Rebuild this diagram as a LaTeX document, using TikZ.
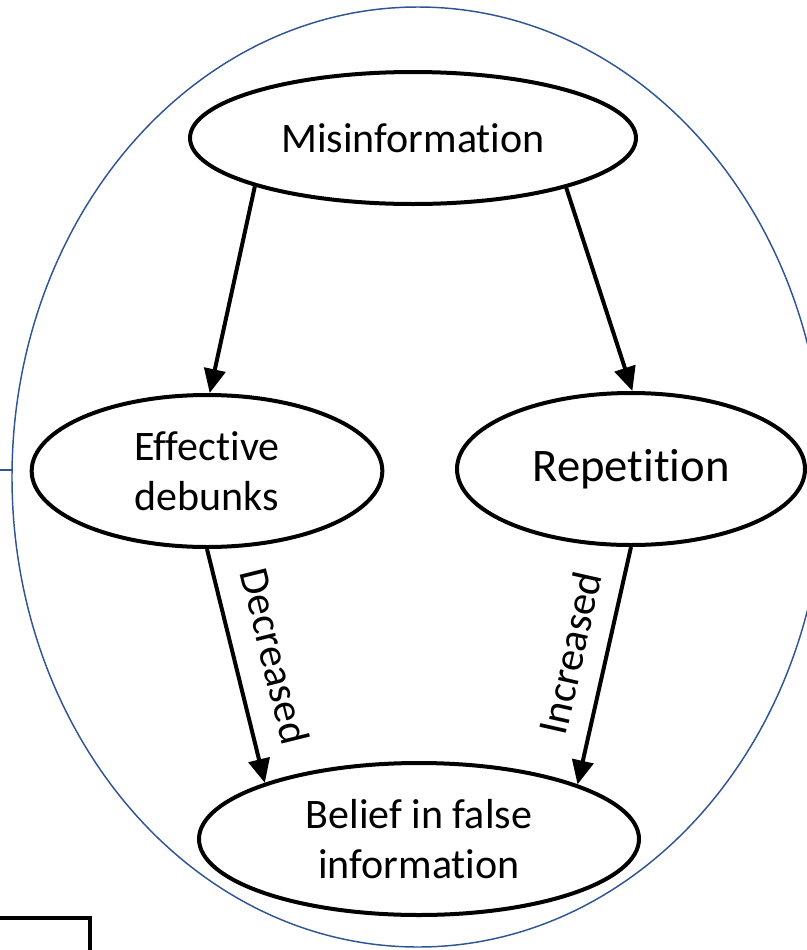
\documentclass[tikz,border=0pt]{standalone}
\usepackage{fontspec}
\setmainfont{Carlito}[Ligatures=CommonOff]
\usetikzlibrary{arrows.meta, shapes.geometric, positioning, calc}
\definecolor{rimblue}{RGB}{47,85,151}
\tikzset{
  bubble/.style={draw, ellipse, line width=3pt, inner sep=0pt, align=center,
    font=\fontsize{31.5}{37.5}\selectfont},
  link/.style={line width=3pt, -{Triangle[length=18pt,width=16pt]}},
  tag/.style={sloped, inner sep=0pt, font=\fontsize{31.5}{37.5}\selectfont}
}
\begin{document}
\begin{tikzpicture}[x=0.75pt,y=-0.75pt]
\useasboundingbox (0,0) rectangle (807,950);
% outer frame
\draw[rimblue, line width=1.1pt] (418,477) ellipse [x radius=304.5pt, y radius=352.5pt];
\draw[rimblue, line width=1.1pt] (0,470) -- (12,470);
\draw[line width=3pt] (0,918) -- (90,918) -- (90,955);
% ellipses
\node[bubble, minimum width=334.5pt, minimum height=99pt] (mis) at (413,138) {Misinformation};
\node[bubble, minimum width=263pt, minimum height=114pt] (deb) at (207,471) {Effective\\debunks};
\node[bubble, minimum width=261pt, minimum height=114pt,
  font=\fontsize{35}{40}\selectfont] (rep) at (631,469) {Repetition};
\node[bubble, minimum width=330pt, minimum height=114pt] (bel) at (419,839) {Belief in false\\information};
% arrows
\draw[link] (mis.197.6) -- (deb.88.5);
\draw[link] (mis.342.4) -- (rep.89.3);
\draw[link] (deb.270.7) -- node[tag, pos=0.5, above=18pt] {Decreased} (bel.160);
\draw[link] (rep.270.5) -- node[tag, pos=0.48, above=14.6pt] {Increased} (bel.19.4);
\end{tikzpicture}
\end{document}
